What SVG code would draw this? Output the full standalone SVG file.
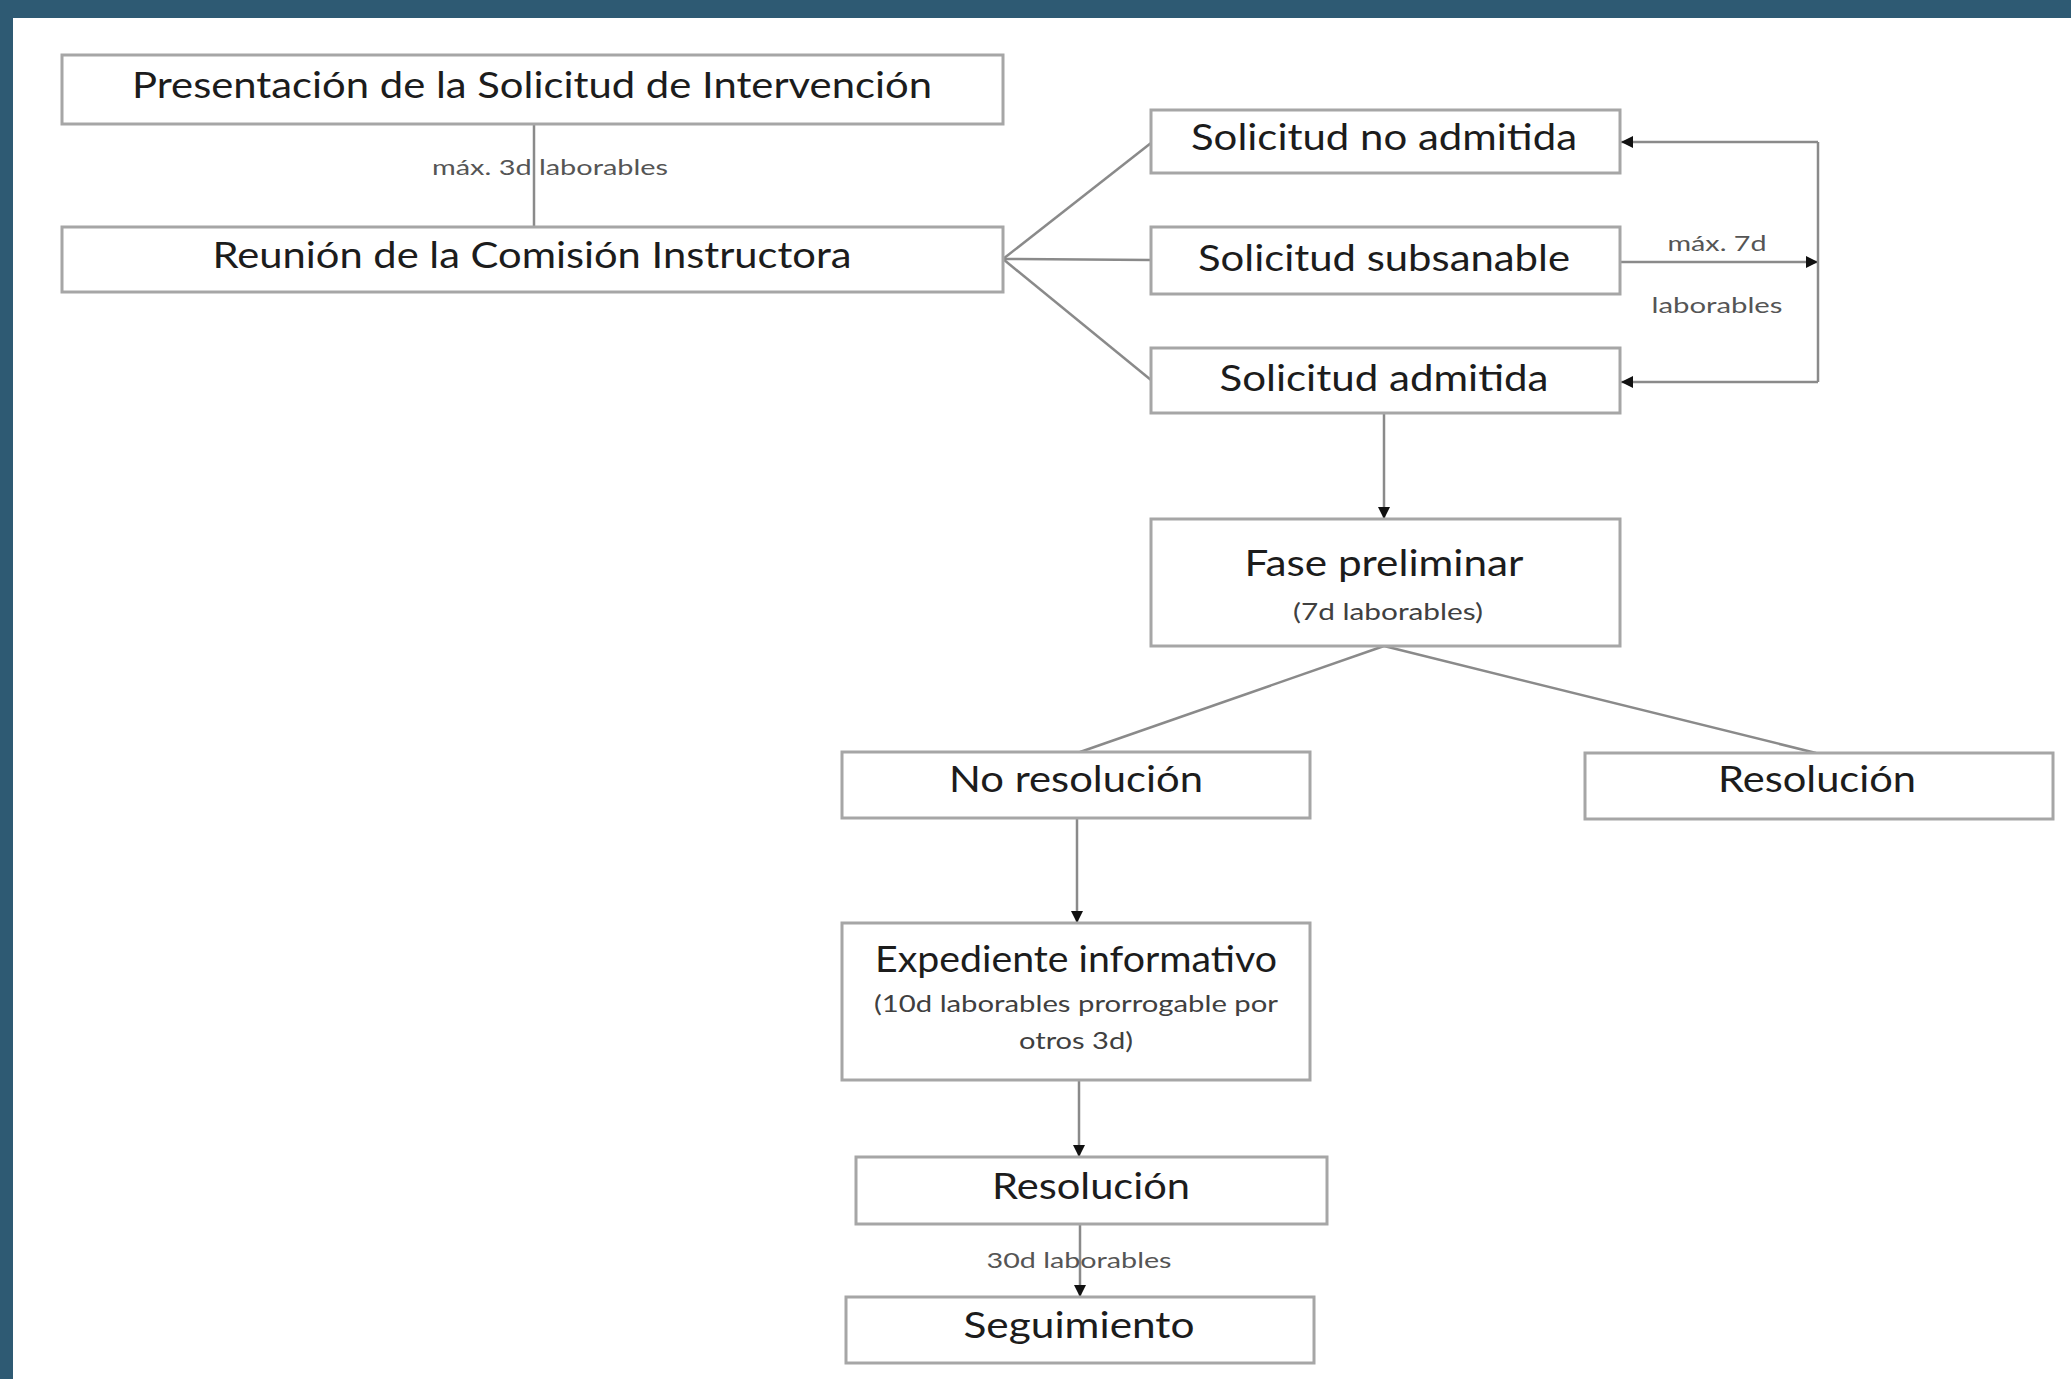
<svg xmlns="http://www.w3.org/2000/svg" width="2071" height="1379" viewBox="0 0 2071 1379">
<style>
.box{fill:#fff;stroke:#a6a6a6;stroke-width:3}
.t{font-family:Lato,"Open Sans","Liberation Sans",sans-serif;fill:#1c1c1c;text-anchor:middle}
.big{font-size:37px}
.sub{font-size:24px;fill:#404040}
.lbl{font-family:Lato,"Open Sans","Liberation Sans",sans-serif;font-size:22px;fill:#555;text-anchor:middle}
.ln{stroke:#8a8a8a;stroke-width:2.5;fill:none}
</style>
<defs>
<marker id="ah" viewBox="0 0 10 10" refX="10" refY="5" markerWidth="13" markerHeight="12" markerUnits="userSpaceOnUse" orient="auto">
<path d="M0,0 L10,5 L0,10 z" fill="#111"/>
</marker>
</defs>
<rect x="0" y="0" width="2071" height="1379" fill="#fff"/>
<rect x="0" y="0" width="2071" height="18" fill="#2e5a73"/>
<rect x="0" y="0" width="13" height="1379" fill="#2e5a73"/>

<g id="connectors">
<line class="ln" x1="534" y1="124" x2="534" y2="227"/>
<line class="ln" x1="1003" y1="259" x2="1151" y2="143"/>
<line class="ln" x1="1003" y1="259" x2="1151" y2="260"/>
<line class="ln" x1="1003" y1="259" x2="1151" y2="380"/>
<line class="ln" x1="1620" y1="262" x2="1818" y2="262" marker-end="url(#ah)"/>
<polyline class="ln" points="1818,142 1818,382"/>
<line class="ln" x1="1818" y1="142" x2="1621" y2="142" marker-end="url(#ah)"/>
<line class="ln" x1="1818" y1="382" x2="1621" y2="382" marker-end="url(#ah)"/>
<line class="ln" x1="1384" y1="413" x2="1384" y2="519" marker-end="url(#ah)"/>
<line class="ln" x1="1384" y1="646" x2="1080" y2="752"/>
<line class="ln" x1="1384" y1="646" x2="1816" y2="753"/>
<line class="ln" x1="1077" y1="818" x2="1077" y2="923" marker-end="url(#ah)"/>
<line class="ln" x1="1079" y1="1080" x2="1079" y2="1157" marker-end="url(#ah)"/>
<line class="ln" x1="1080" y1="1224" x2="1080" y2="1297" marker-end="url(#ah)"/>
<text class="lbl" x="550" y="175" textLength="236" lengthAdjust="spacingAndGlyphs">máx. 3d laborables</text>
<text class="lbl" x="1717" y="251" textLength="99" lengthAdjust="spacingAndGlyphs">máx. 7d</text>
<text class="lbl" x="1717" y="313" textLength="131" lengthAdjust="spacingAndGlyphs">laborables</text>
<text class="lbl" x="1079" y="1268" textLength="185" lengthAdjust="spacingAndGlyphs">30d laborables</text>
</g>

<g id="presentacion">
<rect class="box" x="62" y="55" width="941" height="69"/>
<text class="t big" x="532" y="98" textLength="800" lengthAdjust="spacingAndGlyphs">Presentación de la Solicitud de Intervención</text>
</g>
<g id="reunion">
<rect class="box" x="62" y="227" width="941" height="65"/>
<text class="t big" x="532" y="268" textLength="639" lengthAdjust="spacingAndGlyphs">Reunión de la Comisión Instructora</text>
</g>
<g id="no-admitida">
<rect class="box" x="1151" y="110" width="469" height="63"/>
<text class="t big" x="1384" y="150" textLength="386" lengthAdjust="spacingAndGlyphs">Solicitud no admitida</text>
</g>
<g id="subsanable">
<rect class="box" x="1151" y="227" width="469" height="67"/>
<text class="t big" x="1384" y="271" textLength="372" lengthAdjust="spacingAndGlyphs">Solicitud subsanable</text>
</g>
<g id="admitida">
<rect class="box" x="1151" y="348" width="469" height="65"/>
<text class="t big" x="1384" y="391" textLength="329" lengthAdjust="spacingAndGlyphs">Solicitud admitida</text>
</g>
<g id="fase">
<rect class="box" x="1151" y="519" width="469" height="127"/>
<text class="t big" x="1384" y="576" textLength="279" lengthAdjust="spacingAndGlyphs">Fase preliminar</text>
<text class="t sub" x="1388" y="620" textLength="190" lengthAdjust="spacingAndGlyphs">(7d laborables)</text>
</g>
<g id="no-resolucion">
<rect class="box" x="842" y="752" width="468" height="66"/>
<text class="t big" x="1076" y="792" textLength="254" lengthAdjust="spacingAndGlyphs">No resolución</text>
</g>
<g id="resolucion-1">
<rect class="box" x="1585" y="753" width="468" height="66"/>
<text class="t big" x="1817" y="792" textLength="198" lengthAdjust="spacingAndGlyphs">Resolución</text>
</g>
<g id="expediente">
<rect class="box" x="842" y="923" width="468" height="157"/>
<text class="t big" x="1076" y="972" textLength="402" lengthAdjust="spacingAndGlyphs">Expediente informativo</text>
<text class="t sub" x="1076" y="1012" textLength="404" lengthAdjust="spacingAndGlyphs">(10d laborables prorrogable por</text>
<text class="t sub" x="1076" y="1049" textLength="114" lengthAdjust="spacingAndGlyphs">otros 3d)</text>
</g>
<g id="resolucion-2">
<rect class="box" x="856" y="1157" width="471" height="67"/>
<text class="t big" x="1091" y="1199" textLength="198" lengthAdjust="spacingAndGlyphs">Resolución</text>
</g>
<g id="seguimiento">
<rect class="box" x="846" y="1297" width="468" height="66"/>
<text class="t big" x="1079" y="1338" textLength="231" lengthAdjust="spacingAndGlyphs">Seguimiento</text>
</g>
</svg>
